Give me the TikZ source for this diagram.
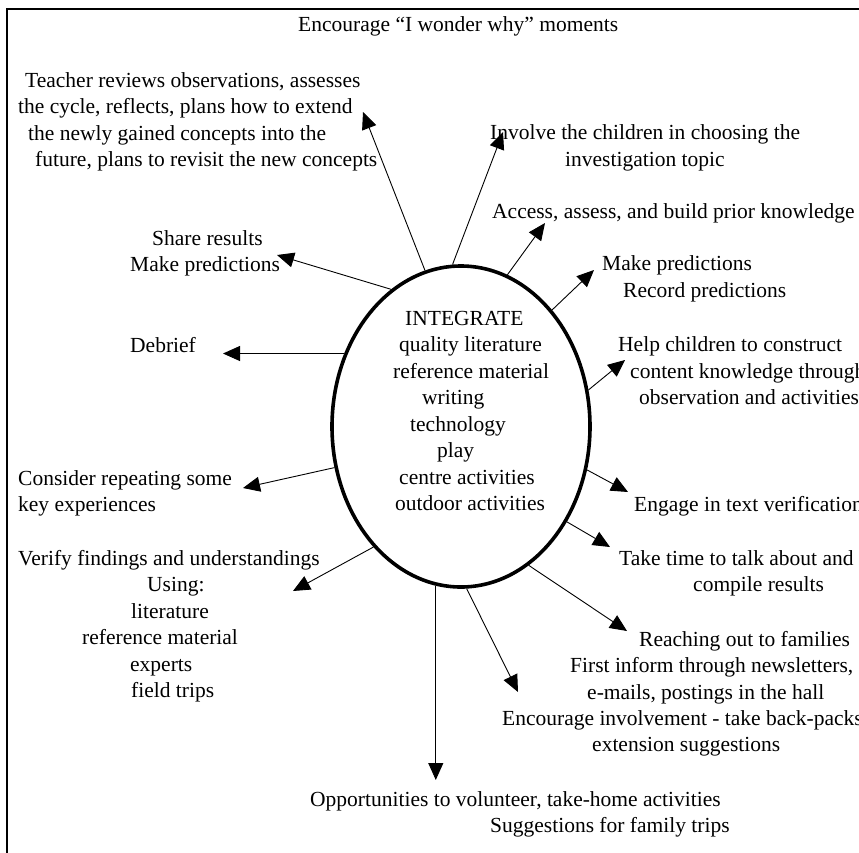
\documentclass[tikz,border=0pt]{standalone}
\usepackage{fontspec}
\setmainfont{Liberation Serif}
\usetikzlibrary{arrows.meta,shapes.geometric}
\newcommand{\mylines}[1]{\begin{tabular}[t]{@{}l@{}}#1\end{tabular}}
\begin{document}
\begin{tikzpicture}[x=1pt,y=-1pt,
  lbl/.style={anchor=base west,inner sep=0pt,font=\fontsize{21.5}{26.5}\selectfont},
  arr/.style={line width=0.9pt,-{Triangle[length=17pt,width=15pt]}},
  hub/.style={ellipse,draw,line width=3.6pt,minimum width=258pt,minimum height=321pt,inner sep=0pt}]
\useasboundingbox (0,0) rectangle (859,852);
\draw[line width=1.2pt] (7,860) -- (7,9) -- (866,9);

\node[hub] (E) at (461,426.5) {};
\node[lbl] (integ) at (393,325) {\mylines{\hspace*{12pt}INTEGRATE\\ \hspace*{6pt}quality literature\\reference material\\ \hspace*{29pt}writing\\ \hspace*{17pt}technology\\ \hspace*{44pt}play\\ \hspace*{6pt}centre activities\\ \hspace*{2pt}outdoor activities}};

\node[lbl] (title) at (298,31.5) {Encourage “I wonder why” moments};
\node[lbl] (teach) at (18,87) {\mylines{\hspace*{7pt}Teacher reviews observations, assesses\\the cycle, reflects, plans how to extend\\ \hspace*{10pt}the newly gained concepts into the\\ \hspace*{17pt}future, plans to revisit the new concepts}};
\node[lbl] (share) at (130,245) {\mylines{\hspace*{22pt}Share results\\Make predictions}};
\node[lbl] (involve) at (490,139.5) {\mylines{Involve the children in choosing the\\ \hspace*{75pt}investigation topic}};
\node[lbl] (access) at (492,218.5) {Access, assess, and build prior knowledge};
\node[lbl] (pred) at (602,270.5) {\mylines{Make predictions\\ \hspace*{21pt}Record predictions}};
\node[lbl] (help) at (618,351.5) {\mylines{Help children to construct\\ \hspace*{12pt}content knowledge through\\ \hspace*{21pt}observation and activities}};
\node[lbl] (engage) at (634,511.5) {Engage in text verification};
\node[lbl] (talk) at (619,565) {\mylines{Take time to talk about and\\ \hspace*{74pt}compile results}};
\node[lbl] (reach) at (570,646) {\mylines{\hspace*{69pt}Reaching out to families\\First inform through newsletters,\\ \hspace*{17pt}e-mails, postings in the hall}};
\node[lbl] (encour) at (502,725) {\mylines{Encourage involvement - take back-packs\\ \hspace*{90pt}extension suggestions}};
\node[lbl] (opp) at (310,806) {\mylines{Opportunities to volunteer, take-home activities\\ \hspace*{180pt}Suggestions for family trips}};
\node[lbl] (debrief) at (130,352) {Debrief};
\node[lbl] (consider) at (18,485) {\mylines{Consider repeating some\\key experiences}};
\node[lbl] (verify) at (18,565) {\mylines{Verify findings and understandings\\ \hspace*{129pt}Using:\\ \hspace*{113pt}literature\\ \hspace*{64pt}reference material\\ \hspace*{112pt}experts\\ \hspace*{113pt}field trips}};

\coordinate (tTeach) at (363,112);
\coordinate (tShare) at (277,255);
\coordinate (tInvolve) at (503,132);
\coordinate (tAccess) at (545,223);
\coordinate (tPred) at (594,270);
\coordinate (tHelp) at (625,360);
\coordinate (tEngage) at (628,492);
\coordinate (tTalk) at (610,547);
\coordinate (tReach) at (627,631);
\coordinate (tEncour) at (518,692);
\coordinate (tOpp) at (438,780);
\coordinate (tVerify) at (293,591);
\coordinate (tConsider) at (243,488);
\coordinate (tDebrief) at (223,348);

\draw[arr] (E.103.7) -- (tTeach);
\draw[arr] (E.117) -- (tShare);
\draw[arr] (E.93.5) -- (tInvolve);
\draw[arr] (E.73) -- (tAccess);
\draw[arr] (E.52.7) -- (tPred);
\draw[arr] (E.16.9) -- (tHelp);
\draw[arr] (E.341.9) -- (tEngage);
\draw[arr] (E.318.2) -- (tTalk);
\draw[arr] (E.296.5) -- (tReach);
\draw[arr] (E.272.5) -- (tEncour);
\draw[arr] (E.261.9) -- (E.261.9 |- tOpp);
\draw[arr] (E.234) -- (tVerify);
\draw[arr] (E.198.6) -- (tConsider);
\draw[arr] (E.148.3) -- (E.148.3 -| tDebrief);
\end{tikzpicture}
\end{document}
